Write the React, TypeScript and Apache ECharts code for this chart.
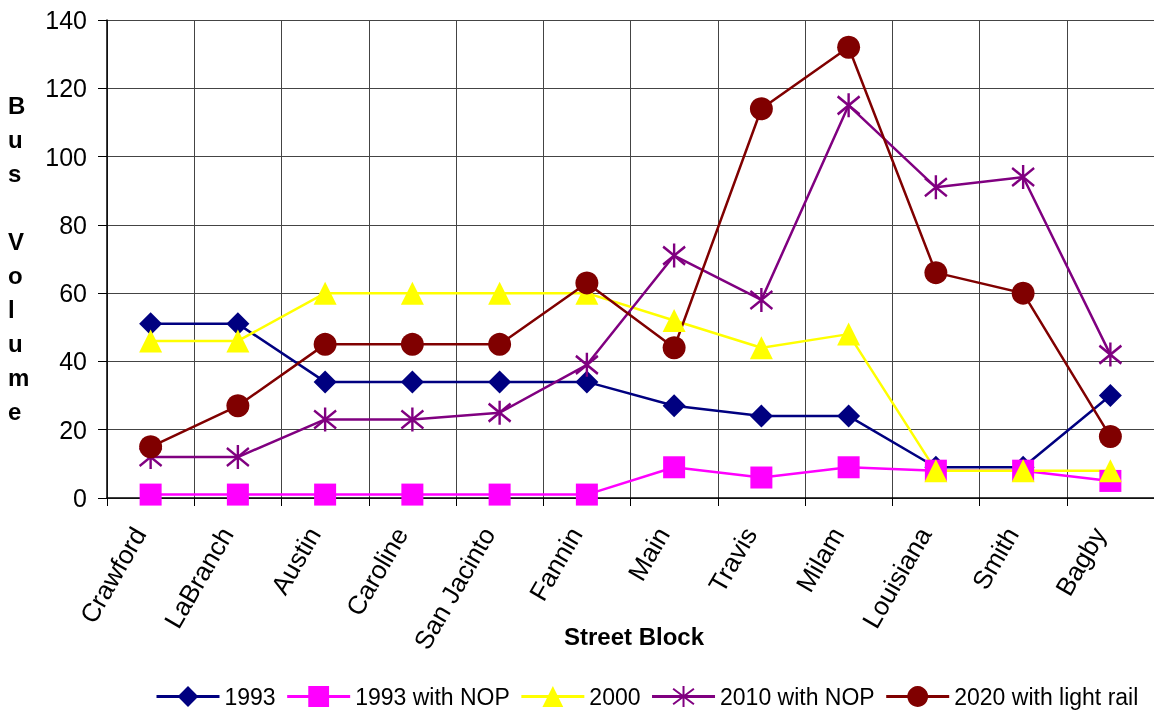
import React, { useEffect, useRef } from "react";
import * as echarts from "echarts";

const categories = ["Crawford", "LaBranch", "Austin", "Caroline", "San Jacinto", "Fannin", "Main", "Travis", "Milam", "Louisiana", "Smith", "Bagby"];
const s1993 = [51, 51, 34, 34, 34, 34, 27, 24, 24, 9, 9, 30];
const s1993NOP = [1, 1, 1, 1, 1, 1, 9, 6, 9, 8, 8, 5];
const s2000 = [46, 46, 60, 60, 60, 60, 52, 44, 48, 8, 8, 8];
const s2010NOP = [12, 12, 23, 23, 25, 39, 71, 58, 115, 91, 94, 42];
const s2020 = [15, 27, 45, 45, 45, 63, 44, 114, 132, 66, 60, 18];
const seriesNames = ["1993", "1993 with NOP", "2000", "2010 with NOP", "2020 with light rail"];
const yTicks = { min: 0, max: 140, interval: 20 };

const ASTERISK = "path://M11,0L11,24M0,3L22,21M0,21L22,3";
const FONT = "Liberation Sans, Arial, sans-serif";

export default function App() {
  const ref = useRef<HTMLDivElement>(null);
  useEffect(() => {
    if (!ref.current) return;
    const chart = echarts.init(ref.current, undefined, { renderer: "svg" });
    const mk = (name: string, data: number[], color: string, symbol: string, size: any, extra: any = {}) => ({
      name,
      type: "line",
      data,
      symbol,
      symbolSize: size,
      showAllSymbol: true,
      lineStyle: { color, width: 2.5 },
      itemStyle: { color, ...extra },
      emphasis: { disabled: true },
    });
    chart.setOption({
      animation: false,
      textStyle: { fontFamily: FONT },
      grid: { left: 107, top: 20, width: 1054, bottom: 215, containLabel: false },
      legend: {
        data: seriesNames,
        left: 150,
        top: 680,
        itemWidth: 63,
        itemHeight: 26,
        itemGap: 10,
        lineStyle: { width: 3 },
        textStyle: { fontFamily: FONT, fontSize: 23, color: "#000" },
      },
      xAxis: {
        type: "category",
        data: categories,
        boundaryGap: true,
        axisLine: { lineStyle: { color: "#000", width: 1.5 } },
        axisTick: { show: true, length: 8, lineStyle: { color: "#000" } },
        splitLine: { show: true, lineStyle: { color: "#444", width: 1 } },
        axisLabel: { rotate: 60, fontSize: 26, color: "#000", margin: 38, verticalAlign: "bottom", fontFamily: FONT, interval: 0 },
      },
      yAxis: {
        type: "value",
        min: yTicks.min,
        max: yTicks.max,
        interval: yTicks.interval,
        axisLine: { show: true, lineStyle: { color: "#000", width: 1.5 } },
        axisTick: { show: true, length: 9, lineStyle: { color: "#000" } },
        splitLine: { show: true, lineStyle: { color: "#444", width: 1 } },
        axisLabel: { fontSize: 25, color: "#000", margin: 20, fontFamily: FONT },
      },
      graphic: [
        {
          type: "text",
          left: 8,
          top: 88,
          style: {
            text: "B\nu\ns\n\nV\no\nl\nu\nm\ne",
            font: "bold 24px " + FONT,
            lineHeight: 34,
            fill: "#000",
            align: "center",
          },
        },
        {
          type: "text",
          x: 634,
          y: 636,
          style: {
            text: "Street Block",
            font: "bold 24px " + FONT,
            fill: "#000",
            align: "center",
            verticalAlign: "middle",
          },
        },
      ],
      series: [
        mk(seriesNames[0], s1993, "#000080", "diamond", 23),
        mk(seriesNames[1], s1993NOP, "#FF00FF", "rect", 22),
        mk(seriesNames[2], s2000, "#FFFF00", "triangle", 23),
        mk(seriesNames[3], s2010NOP, "#800080", ASTERISK, [22, 24], { borderColor: "#800080", borderWidth: 2.5 }),
        mk(seriesNames[4], s2020, "#800000", "circle", 23),
      ],
    });
    return () => chart.dispose();
  }, []);
  return <div ref={ref} style={{ position: "fixed", left: 0, top: 0, width: 1154, height: 713 }} />;
}
